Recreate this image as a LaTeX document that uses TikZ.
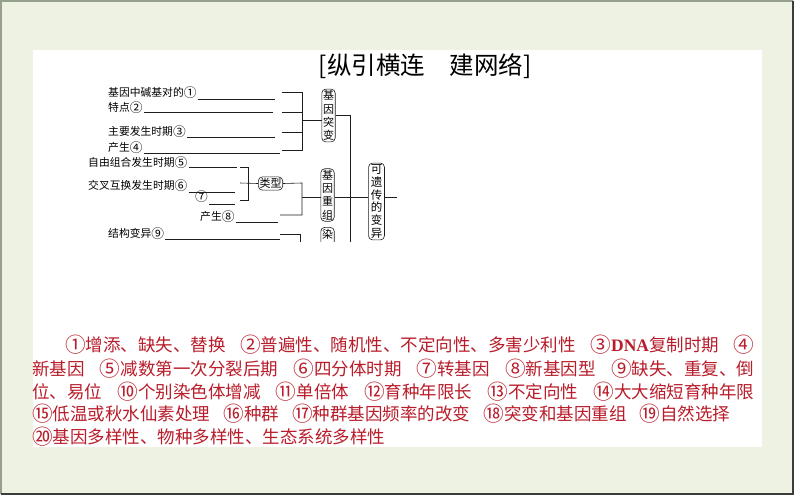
\documentclass[tikz,border=0pt]{standalone}
\usepackage{fontspec}
\setmainfont{Noto Sans CJK SC}
\newfontfamily\latinserif{Liberation Serif}
\definecolor{bgc}{RGB}{237,242,226}
\definecolor{framec}{RGB}{150,160,140}
\definecolor{darkframe}{RGB}{60,60,60}
\definecolor{ansred}{RGB}{185,28,42}
\definecolor{linec}{RGB}{30,30,30}
\newcommand\cn[1]{\raisebox{-0.08em}{\scalebox{1.18}{#1}}}
\tikzset{
  lbl/.style={anchor=west,inner sep=0pt,font=\fontsize{10.8}{12}\selectfont,text=black},
  vbox/.style={draw=linec,line width=0.6pt,rounded corners=4pt,align=center,inner xsep=1.2pt,inner ysep=1.5pt,font=\fontsize{11}{13.2}\selectfont},
  wire/.style={draw=linec,line width=0.6pt},
  ans/.style={anchor=west,inner sep=0pt,text=ansred,font=\fontsize{17.5}{20}\selectfont}
}
\begin{document}
\begin{tikzpicture}[x=1pt,y=-1pt]
\useasboundingbox (0,0) rectangle (794,495);
\fill[bgc] (0,0) rectangle (794,495);
\draw[framec,line width=1.5pt] (1,494) -- (1,1) -- (793,1);
\draw[darkframe,line width=2pt] (793,1) -- (793,494) -- (1,494);
\fill[white] (33,50) rectangle (762,447);

\node[font=\fontsize{24.5}{24}\selectfont] (title) at (425,66) {[纵引横连\hspace{1em}建网络]};

\begin{scope}
\clip (80,80) rectangle (400,241);
% texts
\node[lbl] (t1) at (108,93) {基因中碱基对的\cn{①}};
\node[lbl] (t2) at (108,108) {特点\cn{②}};
\node[lbl] (t3) at (108,132) {主要发生时期\cn{③}};
\node[lbl] (t4) at (108,148) {产生\cn{④}};
\node[lbl] (t5) at (88,163) {自由组合发生时期\cn{⑤}};
\node[lbl] (t6) at (88,186) {交叉互换发生时期\cn{⑥}};
\node[lbl] (t7) at (195,197) {\cn{⑦}};
\node[lbl] (t8) at (200,217) {产生\cn{⑧}};
\node[lbl] (t9) at (108,234) {结构变异\cn{⑨}};
% underline ends
\coordinate (u1) at (275,99);
\coordinate (u2) at (273,112);
\coordinate (u3) at (275,137);
\coordinate (u4) at (280,153);
\coordinate (u5) at (237,167);
\coordinate (u6) at (235,192);
\coordinate (u7) at (235,204);
\coordinate (u8) at (278,222);
\coordinate (u9) at (280,239);
\foreach \i in {1,...,9} {\draw[wire] ([xshift=1pt]t\i.east |- u\i) -- (u\i);}
% boxes
\node[vbox] (b1) at (328.5,115.5) {基\\因\\突\\变};
\node[vbox] (b2) at (327.5,195) {基\\因\\重\\组};
\node[vbox] (b3) at (270.5,183.5) {类型};
\node[vbox,font=\fontsize{11.5}{12.8}\selectfont,inner xsep=2.2pt] (b4) at (376.5,201.5) {可\\遗\\传\\的\\变\\异};
\node[vbox,anchor=north] (b5) at (327.5,227) {染\\\phantom{色}\\\phantom{色}};
% bracket for gene mutation
\coordinate (k1) at (302,92);
\coordinate (k4) at (302,150);
\draw[wire] (282,92) -- (k1) -- (k4) -- (282,150);
\draw[wire] (282,112) -- (302,112);
\draw[wire] (282,132) -- (302,132);
\draw[wire] (302,120) -- (b1.west |- 0,120);
% main trunk
\coordinate (m1) at (350,115);
\coordinate (m2) at (350,260);
\draw[wire] (b1.east |- m1) -- (m1) -- (m2);
% bracket for types
\draw[wire] (240,167) -- (248,167) -- (248,200) -- (240,200);
\draw[wire] (240,183) -- (b3.west);
% recombination bracket
\coordinate (r1) at (302,183);
\coordinate (r2) at (302,215);
\draw[wire] (b3.east) -- (r1) -- (r2) -- (280,215);
\draw[wire] (302,197) -- (b2.west |- 0,197);
\draw[wire] (b2.east |- 0,197) -- (b4.west |- 0,197);
\coordinate (out) at (397,197);
\draw[wire] (b4.east |- out) -- (out);
% chromosome variation bracket
\coordinate (c1) at (300,234);
\draw[wire] (280,234) -- (c1) -- (300,260);
\end{scope}

% answers
\node[ans] (a1) at (65,345) {\makebox[689pt][l]{\cn{①}增添、缺失、替换\hfill\cn{②}普遍性、随机性、不定向性、多害少利性\hfill\cn{③}{\latinserif\bfseries DNA}复制时期\hfill\cn{④}}};
\node[ans] (a2) at (32,369) {\makebox[722pt][l]{新基因\hfill\cn{⑤}减数第一次分裂后期\hfill\cn{⑥}四分体时期\hfill\cn{⑦}转基因\hfill\cn{⑧}新基因型\hfill\cn{⑨}缺失、重复、倒}};
\node[ans] (a3) at (32,392) {\makebox[722pt][l]{位、易位\hfill\cn{⑩}个别染色体增减\hfill\cn{⑪}单倍体\hfill\cn{⑫}育种年限长\hfill\cn{⑬}不定向性\hfill\cn{⑭}大大缩短育种年限}};
\node[ans] (a4) at (32,414) {\cn{⑮}低温或秋水仙素处理\hspace{0.75em}\cn{⑯}种群\hspace{0.75em}\cn{⑰}种群基因频率的改变\hspace{0.75em}\cn{⑱}突变和基因重组\hspace{0.75em}\cn{⑲}自然选择};
\node[ans] (a5) at (32,437) {\cn{⑳}基因多样性、物种多样性、生态系统多样性};
\end{tikzpicture}
\end{document}
